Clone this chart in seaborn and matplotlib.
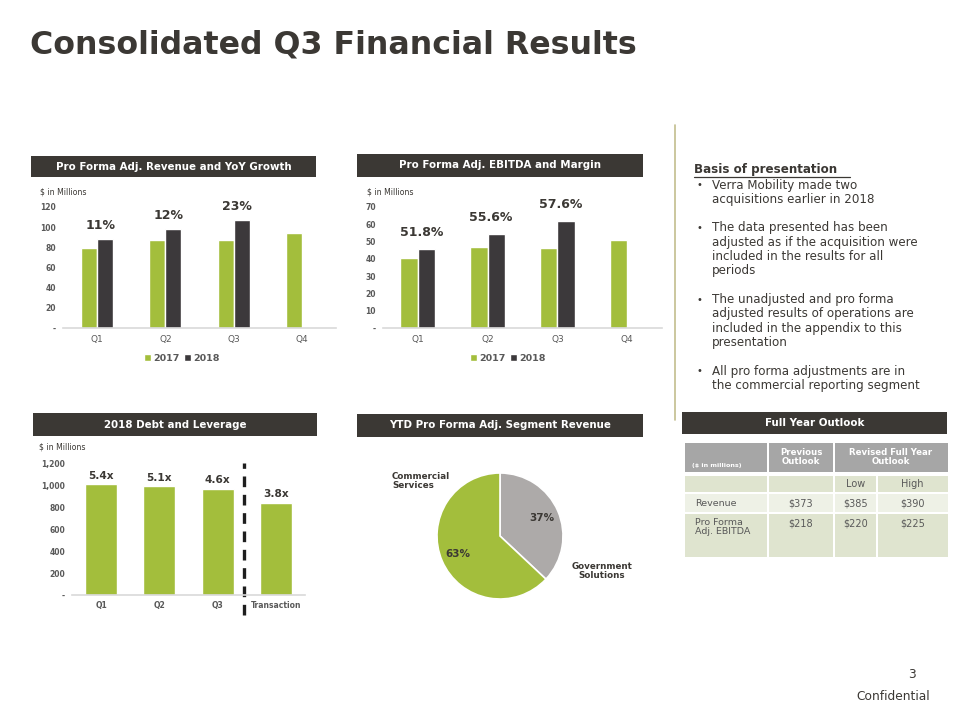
import numpy as np
import pandas as pd
import matplotlib
matplotlib.use("Agg")
import matplotlib.pyplot as plt
import seaborn as sns
from matplotlib.patches import Rectangle
from matplotlib.lines import Line2D
from matplotlib.ticker import FuncFormatter, MultipleLocator

sns.set_style("white")
plt.rcParams['font.family'] = ['DejaVu Sans']

# ---------------- data ----------------
quarters = ["Q1", "Q2", "Q3", "Q4"]
years = ["2017", "2018"]
revenue_2017 = [79, 87, 87, 94]
revenue_2018 = [88, 98, 107, np.nan]
revenue_growth = ["11%", "12%", "23%"]
ebitda_2017 = [40.7, 46.7, 46.4, 51.1]
ebitda_2018 = [45.7, 54.5, 61.9, np.nan]
ebitda_margin = ["51.8%", "55.6%", "57.6%"]
debt_periods = ["Q1", "Q2", "Q3", "Transaction"]
debt_values = [1015, 997, 972, 844]
leverage = ["5.4x", "5.1x", "4.6x", "3.8x"]
segments = ["Government\nSolutions", "Commercial\nServices"]
segment_share = [37, 63]
outlook_rows = ["Revenue", "Pro Forma\nAdj. EBITDA"]
previous_outlook = ["$373", "$218"]
revised_low = ["$385", "$220"]
revised_high = ["$390", "$225"]
bullets = [
    ["Verra Mobility made two", "acquisitions earlier in 2018"],
    ["The data presented has been", "adjusted as if the acquisition were",
     "included in the results for all", "periods"],
    ["The unadjusted and pro forma", "adjusted results of operations are",
     "included in the appendix to this", "presentation"],
    ["All pro forma adjustments are in", "the commercial reporting segment"],
]

# ---------------- style ----------------
GREEN = "#A3BE3C"
DARKBAR = "#3C393B"
HEADER = "#3B3834"
PIEGRAY = "#ADAAA9"
TEXT = "#3B3834"
TICK = "#595959"
AXLINE = "#D9D9D9"

W, H = 960, 720
fig = plt.figure(figsize=(9.6, 7.2), dpi=100)
fig.patch.set_facecolor("white")


def fx(x):
    return x / W


def fy(y):
    return 1 - y / H


def add_ax(x0, y0, x1, y1):
    return fig.add_axes([x0 / W, 1 - y1 / H, (x1 - x0) / W, (y1 - y0) / H])


def rect(x0, y0, x1, y1, color):
    fig.patches.append(Rectangle((fx(x0), fy(y1)), (x1 - x0) / W, (y1 - y0) / H,
                                 transform=fig.transFigure, facecolor=color,
                                 edgecolor="none", zorder=0))


def header(x0, y0, x1, y1, text):
    rect(x0, y0, x1, y1, HEADER)
    fig.text(fx((x0 + x1) / 2), fy((y0 + y1) / 2), text, color="white",
             weight="bold", fontsize=7.4, ha="center", va="center")


def fmt_tick(v, pos):
    if abs(v) < 1e-9:
        return "-"
    return f"{v:,.0f}"


def style_axis(ax, ymax, step, xbold=False, xsize=6.5, xpad=5):
    ax.set_ylim(0, ymax)
    ax.yaxis.set_major_locator(MultipleLocator(step))
    ax.yaxis.set_major_formatter(FuncFormatter(fmt_tick))
    for s in ["top", "right", "left"]:
        ax.spines[s].set_visible(False)
    ax.spines["bottom"].set_color(AXLINE)
    ax.spines["bottom"].set_linewidth(1.2)
    ax.tick_params(axis="y", length=0, labelsize=5.5, labelcolor=TICK, pad=5)
    ax.tick_params(axis="x", length=0, labelsize=xsize, labelcolor=TICK, pad=xpad)
    for t in ax.get_yticklabels():
        t.set_fontweight("bold")
    if xbold:
        for t in ax.get_xticklabels():
            t.set_fontweight("bold")
    ax.set_xlabel("")
    ax.set_ylabel("")
    ax.grid(False)
    ax.set_facecolor("none")


def grouped_panel(box, v17, v18, labels, ymax, step, legend_x, width, label_off):
    ax = add_ax(*box)
    df = pd.DataFrame({
        "Quarter": quarters * 2,
        "Year": [years[0]] * 4 + [years[1]] * 4,
        "Value": list(v17) + list(v18),
    })
    sns.barplot(data=df, x="Quarter", y="Value", hue="Year", order=quarters,
                hue_order=years, palette=[GREEN, DARKBAR], saturation=1,
                width=width, errorbar=None, ax=ax)
    style_axis(ax, ymax, step)
    ax.set_xlim(-0.5, len(quarters) - 0.5)
    for i, lab in enumerate(labels):
        top = np.nanmax([v17[i], v18[i]])
        ax.annotate(lab, (i + 0.05, top), xytext=(0, label_off),
                    textcoords="offset points", ha="center", va="bottom",
                    fontsize=9, weight="bold", color=TEXT, annotation_clip=False)
    handles, labs = ax.get_legend_handles_labels()
    ax.legend(handles, labs, loc="center", bbox_to_anchor=(legend_x, -0.25),
              ncol=2, frameon=False, handlelength=0.75, handleheight=0.75,
              handletextpad=0.2, columnspacing=0.5, borderaxespad=0,
              prop={"weight": "bold", "size": 6.8}, labelcolor=TICK)
    return ax


# ---------------- title ----------------
fig.text(fx(30), fy(45), "Consolidated Q3 Financial Results", fontsize=22.8,
         weight="bold", color=TEXT, ha="left", va="center")

# ---------------- panel 1: revenue ----------------
header(31, 156, 316, 177, "Pro Forma Adj. Revenue and YoY Growth")
fig.text(fx(40), fy(192), "$ in Millions", fontsize=5.6, color=TEXT, va="center")
grouped_panel((63, 207, 336, 328), revenue_2017, revenue_2018, revenue_growth,
              120, 20, 0.436, 0.47, 5)

# ---------------- panel 2: EBITDA ----------------
header(357, 154, 643, 177, "Pro Forma Adj. EBITDA and Margin")
fig.text(fx(367), fy(192), "$ in Millions", fontsize=5.6, color=TEXT, va="center")
grouped_panel((383, 207, 662, 328), ebitda_2017, ebitda_2018, ebitda_margin,
              70, 10, 0.448, 0.5, 7)

# ---------------- panel 3: debt ----------------
header(33, 413, 317, 436, "2018 Debt and Leverage")
fig.text(fx(39), fy(447), "$ in Millions", fontsize=5.6, color=TEXT, va="center")
ax3 = add_ax(72, 464, 305, 595)
debt_df = pd.DataFrame({"Period": debt_periods, "Debt": debt_values})
sns.barplot(data=debt_df, x="Period", y="Debt", order=debt_periods,
            color=GREEN, saturation=1, width=0.55, errorbar=None, ax=ax3)
style_axis(ax3, 1200, 200, xbold=True, xsize=5.5, xpad=4)
ax3.set_xlim(-0.5, len(debt_periods) - 0.5)
for i, lab in enumerate(leverage):
    ax3.annotate(lab, (i, debt_values[i]), xytext=(0, 2.5),
                 textcoords="offset points", ha="center", va="bottom",
                 fontsize=7.6, weight="bold", color=TEXT, annotation_clip=False)
ax3.axvline(2.45, ymin=-0.155, ymax=1.01, color="#1E1E1E", lw=2.4,
            linestyle=(0, (3.2, 2.3)), clip_on=False)

# ---------------- panel 4: pie ----------------
header(357, 414, 643, 437, "YTD Pro Forma Adj. Segment Revenue")
axp = add_ax(437, 473, 563, 599)
wedges, _, autotexts = axp.pie(
    segment_share, colors=[PIEGRAY, GREEN], startangle=90, counterclock=False,
    radius=1, wedgeprops=dict(edgecolor="white", linewidth=1.2),
    autopct="%.0f%%", pctdistance=0.72,
    textprops=dict(fontsize=7.5, weight="bold", color=TEXT))
axp.set_xlim(-1, 1)
axp.set_ylim(-1, 1)
axp.set_aspect("equal")
fig.text(fx(392), fy(481), segments[1], fontsize=6.3, weight="bold",
         color=TEXT, ha="left", va="center", linespacing=1.05)
fig.text(fx(602), fy(571), segments[0], fontsize=6.3, weight="bold",
         color=TEXT, ha="center", va="center", linespacing=1.05)

# ---------------- separator ----------------
fig.add_artist(Line2D([fx(675), fx(675)], [fy(125), fy(420)], color="#C2BE8E",
                      lw=1.2, transform=fig.transFigure))

# ---------------- basis of presentation ----------------
fig.text(fx(694), fy(170), "Basis of presentation", fontsize=8.6, weight="bold",
         color=TEXT, ha="left", va="center")
fig.add_artist(Line2D([fx(694), fx(850)], [fy(177), fy(177)], color=TEXT,
                      lw=0.9, transform=fig.transFigure))
k = 0
for b in bullets:
    for j, line in enumerate(b):
        y = 185 + 14.33 * k
        if j == 0:
            fig.text(fx(697), fy(y), "•", fontsize=7, color=TEXT,
                     ha="left", va="center")
        fig.text(fx(712), fy(y), line, fontsize=8.6, color=TEXT,
                 ha="left", va="center")
        k += 1
    k += 1

# ---------------- full year outlook ----------------
header(682, 412, 947, 434, "Full Year Outlook")
cols = [685, 768, 834, 877, 948]
HDR = "#A6A6A6"
ROW_A = "#DFE4CF"
ROW_B = "#EEF1E6"
g = 1.0
# header row
rect(cols[0], 443, cols[1] - g, 472, HDR)
rect(cols[1] + g, 443, cols[2] - g, 472, HDR)
rect(cols[2] + g, 443, cols[4], 472, HDR)
fig.text(fx(692), fy(465), "($ in millions)", fontsize=4.6, weight="bold",
         color="white", ha="left", va="center")
fig.text(fx((cols[1] + cols[2]) / 2), fy(457), "Previous\nOutlook", fontsize=6.2,
         weight="bold", color="white", ha="center", va="center", linespacing=0.95)
fig.text(fx((cols[2] + cols[4]) / 2), fy(457), "Revised Full Year\nOutlook",
         fontsize=6.2, weight="bold", color="white", ha="center", va="center",
         linespacing=0.95)
row_bounds = [(476, 492, ROW_A), (494, 512, ROW_B), (514, 557, ROW_A)]
for (y0, y1, c) in row_bounds:
    for ci in range(4):
        x0 = cols[ci] + (g if ci > 0 else 0)
        x1 = cols[ci + 1] - (g if ci < 3 else 0)
        rect(x0, y0, x1, y1, c)
fig.text(fx((cols[2] + cols[3]) / 2), fy(484), "Low", fontsize=7, color=TICK,
         ha="center", va="center")
fig.text(fx((cols[3] + cols[4]) / 2), fy(484), "High", fontsize=7, color=TICK,
         ha="center", va="center")
row_y = [503, 518]
for r, name in enumerate(outlook_rows):
    va = "center" if r == 0 else "top"
    fig.text(fx(695), fy(row_y[r]), name, fontsize=6.8, color=TICK, ha="left",
             va=va, linespacing=1.0)
    for ci, vals in zip([1, 2, 3], [previous_outlook, revised_low, revised_high]):
        fig.text(fx((cols[ci] + cols[ci + 1]) / 2), fy(row_y[r]), vals[r],
                 fontsize=7, color=TICK, ha="center", va=va)

# ---------------- footer ----------------
fig.text(fx(912), fy(675), "3", fontsize=8.8, color=TEXT, ha="center", va="center")
fig.text(fx(893), fy(697), "Confidential", fontsize=8.8, color=TEXT,
         ha="center", va="center")

fig.savefig("out.png", dpi=100, facecolor="white")
